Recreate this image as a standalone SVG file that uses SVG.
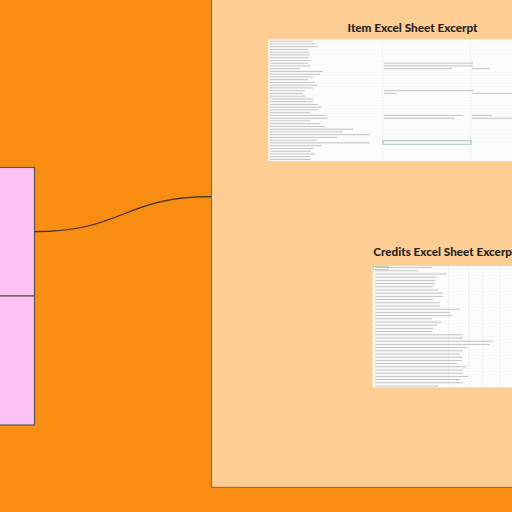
<svg xmlns="http://www.w3.org/2000/svg" width="512" height="512" viewBox="0 0 512 512">
<defs>
<style>
.node{fill:#FFC2F5;stroke:#555;stroke-width:1.2}
.panel{fill:#FECE94;stroke:#7a6a55;stroke-width:1}
.title{font-family:Lato,"Liberation Sans",Arial,sans-serif;font-weight:900;font-size:11.5px;fill:#2a2420}
.sheet{fill:#ffffff}
.grid{stroke:#f0f0f0;stroke-width:0.5}
.col{stroke:#e6e6e6;stroke-width:0.6}
.t{stroke:#c2c2c2;stroke-width:1}
.conn{fill:none;stroke:#3a3020;stroke-width:1.2}
</style>
</defs>
<rect x="0" y="0" width="512" height="512" fill="#F98D12"/>
<g id="panel">
<rect class="panel" x="211.5" y="-2" width="310" height="489.3"/>
</g>
<g id="item-sheet">
<text class="title" x="347.5" y="31.7" textLength="130" lengthAdjust="spacingAndGlyphs">Item Excel Sheet Excerpt</text>
<rect class="sheet" x="268.5" y="39.5" width="250" height="121.5"/>
<g class="grid">
<line x1="268.5" y1="42.5" x2="512" y2="42.5"/><line x1="268.5" y1="45.3" x2="512" y2="45.3"/><line x1="268.5" y1="48" x2="512" y2="48"/><line x1="268.5" y1="50.8" x2="512" y2="50.8"/><line x1="268.5" y1="53.5" x2="512" y2="53.5"/><line x1="268.5" y1="56.3" x2="512" y2="56.3"/><line x1="268.5" y1="59" x2="512" y2="59"/><line x1="268.5" y1="61.8" x2="512" y2="61.8"/><line x1="268.5" y1="64.5" x2="512" y2="64.5"/><line x1="268.5" y1="67.3" x2="512" y2="67.3"/><line x1="268.5" y1="70" x2="512" y2="70"/><line x1="268.5" y1="72.8" x2="512" y2="72.8"/><line x1="268.5" y1="75.5" x2="512" y2="75.5"/><line x1="268.5" y1="78.3" x2="512" y2="78.3"/><line x1="268.5" y1="81" x2="512" y2="81"/><line x1="268.5" y1="83.8" x2="512" y2="83.8"/><line x1="268.5" y1="86.5" x2="512" y2="86.5"/><line x1="268.5" y1="89.3" x2="512" y2="89.3"/><line x1="268.5" y1="92" x2="512" y2="92"/><line x1="268.5" y1="94.8" x2="512" y2="94.8"/><line x1="268.5" y1="97.5" x2="512" y2="97.5"/><line x1="268.5" y1="100.3" x2="512" y2="100.3"/><line x1="268.5" y1="103" x2="512" y2="103"/><line x1="268.5" y1="105.8" x2="512" y2="105.8"/><line x1="268.5" y1="108.5" x2="512" y2="108.5"/><line x1="268.5" y1="111.3" x2="512" y2="111.3"/><line x1="268.5" y1="114" x2="512" y2="114"/><line x1="268.5" y1="116.8" x2="512" y2="116.8"/><line x1="268.5" y1="119.5" x2="512" y2="119.5"/><line x1="268.5" y1="122.3" x2="512" y2="122.3"/><line x1="268.5" y1="125" x2="512" y2="125"/><line x1="268.5" y1="127.8" x2="512" y2="127.8"/><line x1="268.5" y1="130.5" x2="512" y2="130.5"/><line x1="268.5" y1="133.3" x2="512" y2="133.3"/><line x1="268.5" y1="136" x2="512" y2="136"/><line x1="268.5" y1="138.8" x2="512" y2="138.8"/><line x1="268.5" y1="141.5" x2="512" y2="141.5"/><line x1="268.5" y1="144.3" x2="512" y2="144.3"/><line x1="268.5" y1="147" x2="512" y2="147"/><line x1="268.5" y1="149.8" x2="512" y2="149.8"/><line x1="268.5" y1="152.5" x2="512" y2="152.5"/><line x1="268.5" y1="155.3" x2="512" y2="155.3"/><line x1="268.5" y1="158" x2="512" y2="158"/>
</g>
<line class="col" x1="382.7" y1="39.5" x2="382.7" y2="161"/>
<line class="col" x1="470.7" y1="39.5" x2="470.7" y2="161"/>
<g class="t">
<line x1="270" y1="41.2" x2="313" y2="41.2"/><line x1="270" y1="43.9" x2="315" y2="43.9"/><line x1="270" y1="46.7" x2="318" y2="46.7"/><line x1="270" y1="49.4" x2="308" y2="49.4"/><line x1="270" y1="52.2" x2="310" y2="52.2"/><line x1="270" y1="54.9" x2="310" y2="54.9"/><line x1="270" y1="57.7" x2="309" y2="57.7"/><line x1="270" y1="60.4" x2="310" y2="60.4"/><line x1="270" y1="63.2" x2="308" y2="63.2"/><line x1="270" y1="65.9" x2="311" y2="65.9"/><line x1="270" y1="68.7" x2="300" y2="68.7"/><line x1="270" y1="71.4" x2="323" y2="71.4"/><line x1="270" y1="74.2" x2="320" y2="74.2"/><line x1="270" y1="76.9" x2="313" y2="76.9"/><line x1="270" y1="79.7" x2="308" y2="79.7"/><line x1="270" y1="82.4" x2="315" y2="82.4"/><line x1="270" y1="85.2" x2="318" y2="85.2"/><line x1="270" y1="87.9" x2="313" y2="87.9"/><line x1="270" y1="90.7" x2="305" y2="90.7"/><line x1="270" y1="93.4" x2="303" y2="93.4"/><line x1="270" y1="96.2" x2="305" y2="96.2"/><line x1="270" y1="98.9" x2="313" y2="98.9"/><line x1="270" y1="101.7" x2="313" y2="101.7"/><line x1="270" y1="104.4" x2="318" y2="104.4"/><line x1="270" y1="107.2" x2="322" y2="107.2"/><line x1="270" y1="109.9" x2="318" y2="109.9"/><line x1="270" y1="112.7" x2="310" y2="112.7"/><line x1="270" y1="115.4" x2="326" y2="115.4"/><line x1="270" y1="118.2" x2="328" y2="118.2"/><line x1="270" y1="120.9" x2="310" y2="120.9"/><line x1="270" y1="123.7" x2="320" y2="123.7"/><line x1="270" y1="126.4" x2="325" y2="126.4"/><line x1="270" y1="129.2" x2="353" y2="129.2"/><line x1="270" y1="131.9" x2="343" y2="131.9"/><line x1="270" y1="134.7" x2="370" y2="134.7"/><line x1="270" y1="137.4" x2="337" y2="137.4"/><line x1="270" y1="140.2" x2="317" y2="140.2"/><line x1="270" y1="142.9" x2="370" y2="142.9"/><line x1="270" y1="145.7" x2="322" y2="145.7"/><line x1="270" y1="148.4" x2="313" y2="148.4"/><line x1="270" y1="151.2" x2="311" y2="151.2"/><line x1="270" y1="153.9" x2="315" y2="153.9"/><line x1="270" y1="156.7" x2="310" y2="156.7"/><line x1="270" y1="159.4" x2="311" y2="159.4"/>
<line x1="384" y1="63.2" x2="473" y2="63.2"/><line x1="384" y1="65.9" x2="473" y2="65.9"/><line x1="384" y1="68.7" x2="452" y2="68.7"/><line x1="472" y1="68.7" x2="490" y2="68.7"/>
<line x1="384" y1="90.7" x2="474" y2="90.7"/><line x1="384" y1="93.4" x2="397" y2="93.4"/><line x1="472" y1="93.4" x2="512" y2="93.4"/>
<line x1="384" y1="115.4" x2="463" y2="115.4"/><line x1="384" y1="118.2" x2="455" y2="118.2"/><line x1="472" y1="115.4" x2="492" y2="115.4"/><line x1="472" y1="118.2" x2="512" y2="118.2"/>
</g>
<rect x="383" y="140.8" width="88" height="3.4" fill="none" stroke="#8cb89a" stroke-width="0.8"/>
</g>
<g id="credits-sheet">
<text class="title" x="373.3" y="255.7" textLength="143" lengthAdjust="spacingAndGlyphs">Credits Excel Sheet Excerpt</text>
<rect class="sheet" x="372.7" y="266" width="150" height="121.3"/>
<g class="grid">
<line x1="372.7" y1="269.2" x2="512" y2="269.2"/><line x1="372.7" y1="272.4" x2="512" y2="272.4"/><line x1="372.7" y1="275.6" x2="512" y2="275.6"/><line x1="372.7" y1="278.8" x2="512" y2="278.8"/><line x1="372.7" y1="282" x2="512" y2="282"/><line x1="372.7" y1="285.2" x2="512" y2="285.2"/><line x1="372.7" y1="288.4" x2="512" y2="288.4"/><line x1="372.7" y1="291.6" x2="512" y2="291.6"/><line x1="372.7" y1="294.8" x2="512" y2="294.8"/><line x1="372.7" y1="298" x2="512" y2="298"/><line x1="372.7" y1="301.2" x2="512" y2="301.2"/><line x1="372.7" y1="304.4" x2="512" y2="304.4"/><line x1="372.7" y1="307.6" x2="512" y2="307.6"/><line x1="372.7" y1="310.8" x2="512" y2="310.8"/><line x1="372.7" y1="314" x2="512" y2="314"/><line x1="372.7" y1="317.2" x2="512" y2="317.2"/><line x1="372.7" y1="320.4" x2="512" y2="320.4"/><line x1="372.7" y1="323.6" x2="512" y2="323.6"/><line x1="372.7" y1="326.8" x2="512" y2="326.8"/><line x1="372.7" y1="330" x2="512" y2="330"/><line x1="372.7" y1="333.2" x2="512" y2="333.2"/><line x1="372.7" y1="336.4" x2="512" y2="336.4"/><line x1="372.7" y1="339.6" x2="512" y2="339.6"/><line x1="372.7" y1="342.8" x2="512" y2="342.8"/><line x1="372.7" y1="346" x2="512" y2="346"/><line x1="372.7" y1="349.2" x2="512" y2="349.2"/><line x1="372.7" y1="352.4" x2="512" y2="352.4"/><line x1="372.7" y1="355.6" x2="512" y2="355.6"/><line x1="372.7" y1="358.8" x2="512" y2="358.8"/><line x1="372.7" y1="362" x2="512" y2="362"/><line x1="372.7" y1="365.2" x2="512" y2="365.2"/><line x1="372.7" y1="368.4" x2="512" y2="368.4"/><line x1="372.7" y1="371.6" x2="512" y2="371.6"/><line x1="372.7" y1="374.8" x2="512" y2="374.8"/><line x1="372.7" y1="378" x2="512" y2="378"/><line x1="372.7" y1="381.2" x2="512" y2="381.2"/><line x1="372.7" y1="384.4" x2="512" y2="384.4"/>
</g>
<g class="col">
<line x1="448.7" y1="266" x2="448.7" y2="387.3"/><line x1="468.7" y1="266" x2="468.7" y2="387.3"/><line x1="482.7" y1="266" x2="482.7" y2="387.3"/><line x1="500" y1="266" x2="500" y2="387.3"/>
</g>
<g class="t">
<line x1="375" y1="267.6" x2="432" y2="267.6"/><line x1="375" y1="270.8" x2="418" y2="270.8"/><line x1="375" y1="274" x2="447" y2="274"/><line x1="375" y1="277.2" x2="437" y2="277.2"/><line x1="375" y1="280.4" x2="435" y2="280.4"/><line x1="375" y1="283.6" x2="435" y2="283.6"/><line x1="375" y1="286.8" x2="433" y2="286.8"/><line x1="375" y1="290" x2="438" y2="290"/><line x1="375" y1="293.2" x2="443" y2="293.2"/><line x1="375" y1="296.4" x2="443" y2="296.4"/><line x1="375" y1="299.6" x2="433" y2="299.6"/><line x1="375" y1="302.8" x2="440" y2="302.8"/><line x1="375" y1="306" x2="440" y2="306"/><line x1="375" y1="309.2" x2="460" y2="309.2"/><line x1="375" y1="312.4" x2="450" y2="312.4"/><line x1="375" y1="315.6" x2="452" y2="315.6"/><line x1="375" y1="318.8" x2="432" y2="318.8"/><line x1="375" y1="322" x2="442" y2="322"/><line x1="375" y1="325.2" x2="437" y2="325.2"/><line x1="375" y1="328.4" x2="433" y2="328.4"/><line x1="375" y1="331.6" x2="432" y2="331.6"/><line x1="375" y1="334.8" x2="463" y2="334.8"/><line x1="375" y1="338" x2="463" y2="338"/><line x1="375" y1="341.2" x2="493" y2="341.2"/><line x1="375" y1="344.4" x2="490" y2="344.4"/><line x1="375" y1="347.6" x2="467" y2="347.6"/><line x1="375" y1="350.8" x2="463" y2="350.8"/><line x1="375" y1="354" x2="460" y2="354"/><line x1="375" y1="357.2" x2="462" y2="357.2"/><line x1="375" y1="360.4" x2="462" y2="360.4"/><line x1="375" y1="363.6" x2="457" y2="363.6"/><line x1="375" y1="366.8" x2="467" y2="366.8"/><line x1="375" y1="370" x2="463" y2="370"/><line x1="375" y1="373.2" x2="463" y2="373.2"/><line x1="375" y1="376.4" x2="468" y2="376.4"/><line x1="375" y1="379.6" x2="460" y2="379.6"/><line x1="375" y1="382.8" x2="463" y2="382.8"/><line x1="375" y1="386" x2="438" y2="386"/>
</g>
<rect x="373.2" y="266.4" width="15" height="3" fill="none" stroke="#8cb89a" stroke-width="0.6"/>
</g>
<g id="node-top">
<rect class="node" x="-5" y="167.5" width="39.5" height="128.5"/>
</g>
<g id="node-bottom">
<rect class="node" x="-5" y="296" width="39.5" height="129"/>
</g>
<g id="connectors">
<path class="conn" d="M34.5,231.7 C123,231.7 123,196.7 211.5,196.7"/>
</g>
</svg>
